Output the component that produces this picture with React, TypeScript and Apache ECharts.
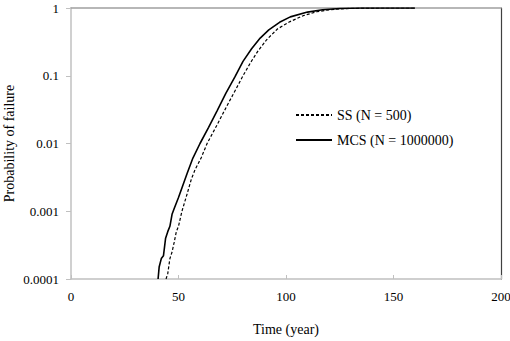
import React, { useEffect, useRef } from "react";
import * as echarts from "echarts";

const yTickLabels = ["0.0001", "0.001", "0.01", "0.1", "1"];
const xTicks = [0, 50, 100, 150, 200];

const mcsTime = [40.5, 41, 42, 43, 44, 45, 46, 47, 48, 50, 52, 54, 56.7, 60, 64, 68, 72, 76.3, 80, 84, 88, 92, 97, 102, 110, 117, 125, 135, 145, 160];
const mcsProb = [0.0001, 0.00015, 0.0002, 0.00022, 0.0004, 0.0005, 0.0006, 0.0009, 0.0011, 0.0016, 0.0024, 0.0036, 0.0061, 0.01, 0.0173, 0.0306, 0.055, 0.097, 0.163, 0.25, 0.36, 0.475, 0.615, 0.74, 0.87, 0.94, 0.985, 0.998, 1, 1];

const ssTime = [44.2, 45, 46, 47, 48, 49, 50, 51.6, 54, 56, 57.7, 60.5, 63.3, 68, 72.4, 77, 80, 83.7, 87, 91, 96, 101.9, 108, 114.3, 120, 127, 135, 145, 160];
const ssProb = [0.0001, 0.00012, 0.0002, 0.00025, 0.00035, 0.0005, 0.0006, 0.001, 0.0018, 0.003, 0.0041, 0.0061, 0.01, 0.019, 0.0353, 0.066, 0.1, 0.16, 0.233, 0.34, 0.49, 0.63, 0.77, 0.88, 0.94, 0.98, 0.995, 1, 1];

const seriesNames = ["SS (N = 500)", "MCS (N = 1000000)"];

const FONT = "'Liberation Serif', 'Times New Roman', serif";

export default function App() {
  const ref = useRef<HTMLDivElement>(null);
  useEffect(() => {
    if (!ref.current) return;
    const chart = echarts.init(ref.current, undefined, { renderer: "svg" });
    const zip = (a: number[], b: number[]) => a.map((t, i) => [t, b[i]]);
    chart.setOption({
      animation: false,
      backgroundColor: "#fff",
      textStyle: { fontFamily: FONT },
      grid: { left: 71, right: 9, top: 8, bottom: 62, containLabel: false, outerBoundsMode: "none" },
      legend: {
        orient: "vertical",
        left: 290,
        top: 103,
        itemWidth: 36,
        itemHeight: 10,
        itemGap: 11,
        data: seriesNames,
        itemStyle: { opacity: 0 },
        textStyle: { fontFamily: FONT, fontSize: 14, color: "#000" },
      },
      xAxis: [
        {
          type: "value",
          position: "bottom",
          min: xTicks[0],
          max: xTicks[xTicks.length - 1],
          interval: 50,
          name: "Time (year)",
          nameLocation: "middle",
          nameGap: 43,
          nameMoveOverlap: false,
          nameTextStyle: { fontFamily: FONT, fontSize: 14, color: "#000" },
          axisLine: { show: true, onZero: false, lineStyle: { color: "#c0c0c0", width: 1.5 } },
          axisTick: { show: true, inside: true, length: 4, lineStyle: { color: "#c0c0c0" } },
          axisLabel: { fontFamily: FONT, fontSize: 13, color: "#000", margin: 11 },
          splitLine: { show: false },
        },
        {
          type: "value",
          position: "top",
          min: 0,
          max: 200,
          axisLine: { show: true, onZero: false, lineStyle: { color: "#a0a0a0", width: 1.5 } },
          axisTick: { show: false },
          axisLabel: { show: false },
          splitLine: { show: false },
        },
      ],
      yAxis: [
        {
          type: "log",
          position: "left",
          logBase: 10,
          min: 0.0001,
          max: 1,
          name: "Probability of failure",
          nameLocation: "middle",
          nameGap: 55,
          nameMoveOverlap: false,
          nameTextStyle: { fontFamily: FONT, fontSize: 14, color: "#000" },
          axisLine: { show: true, onZero: false, lineStyle: { color: "#c0c0c0", width: 1.5 } },
          axisTick: { show: true, inside: false, length: 5, lineStyle: { color: "#c0c0c0" } },
          axisLabel: {
            fontFamily: FONT,
            fontSize: 13,
            color: "#000",
            margin: 12,
            formatter: (v: number) => {
              const k = Math.round(Math.log10(v));
              return yTickLabels[k + 4] ?? "";
            },
          },
          splitLine: { show: false },
        },
        {
          type: "log",
          position: "right",
          logBase: 10,
          min: 0.0001,
          max: 1,
          axisLine: { show: true, onZero: false, lineStyle: { color: "#404040", width: 1.2 } },
          axisTick: { show: false },
          axisLabel: { show: false },
          splitLine: { show: false },
        },
      ],
      series: [
        {
          name: seriesNames[0],
          type: "line",
          data: zip(ssTime, ssProb),
          showSymbol: false,
          symbol: "none",
          lineStyle: { color: "#000", width: 1.2, type: [3, 2] },
          itemStyle: { color: "#000" },
        },
        {
          name: seriesNames[1],
          type: "line",
          data: zip(mcsTime, mcsProb),
          showSymbol: false,
          symbol: "none",
          lineStyle: { color: "#000", width: 1.6 },
          itemStyle: { color: "#000" },
        },
      ],
    });
    return () => chart.dispose();
  }, []);
  return <div ref={ref} style={{ width: 510, height: 341, position: "absolute", left: 0, top: 0 }} />;
}
